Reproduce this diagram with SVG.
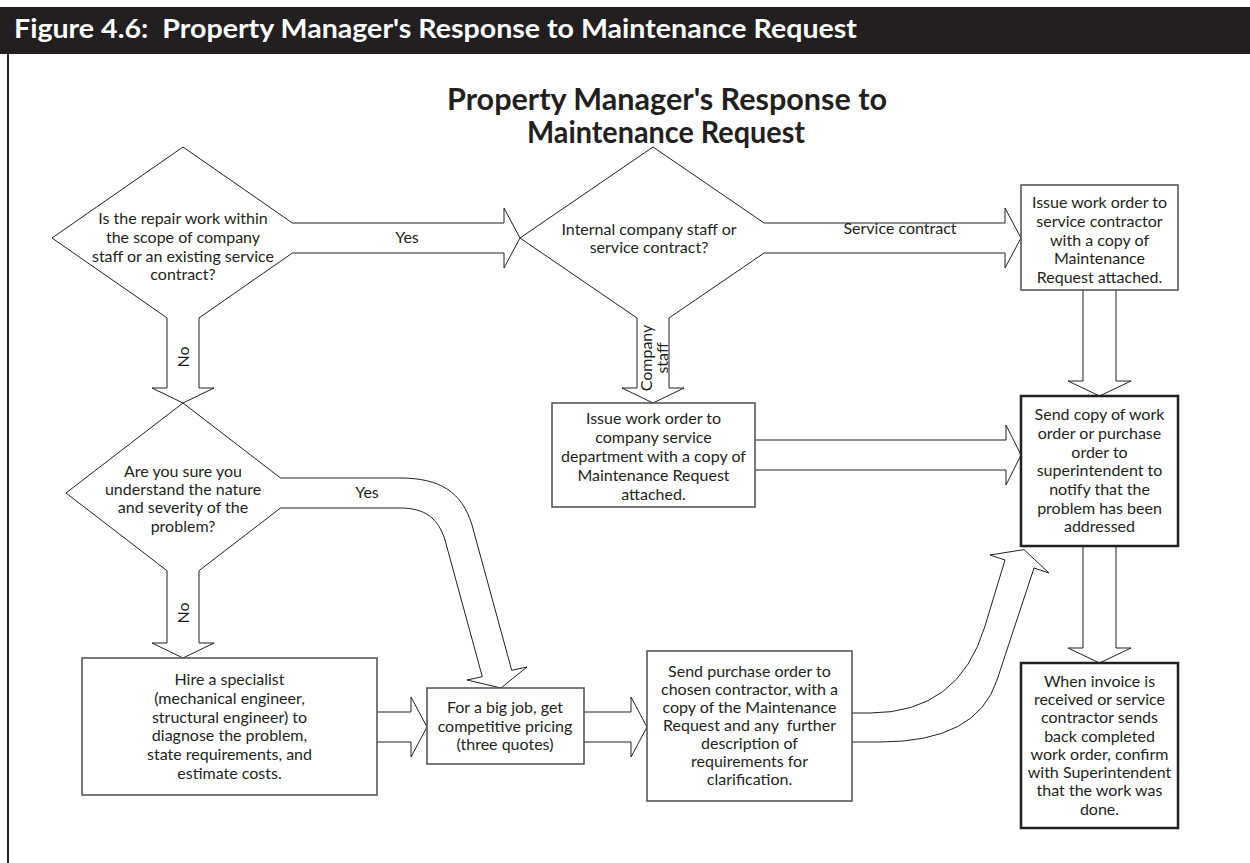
<svg xmlns="http://www.w3.org/2000/svg" width="1250" height="863" viewBox="0 0 1250 863">
<style>
.ln{fill:#fff;stroke:#231f20;stroke-width:1;stroke-linejoin:miter}
.dl{fill:none;stroke:#231f20;stroke-width:1}
.box{fill:#fff;stroke:#4d4d4d;stroke-width:1.5}
.boxb{fill:#fff;stroke:#231f20;stroke-width:2.5}
.t{font-family:Lato,"Open Sans","Liberation Sans",sans-serif;font-size:16px;fill:#231f20;text-anchor:middle}
.hd{font-family:Lato,"Open Sans","Liberation Sans",sans-serif;font-weight:bold;fill:#231f20;text-anchor:middle;font-size:30px}
</style>
<rect x="0" y="0" width="1250" height="863" fill="#fff"/>
<g id="titlebar">
<rect x="0" y="7" width="1250" height="47" fill="#231f20"/>
<text x="14" y="38" xml:space="preserve" textLength="843" lengthAdjust="spacingAndGlyphs" font-family="Lato,'Open Sans','Liberation Sans',sans-serif" font-weight="bold" font-size="27" fill="#fff">Figure 4.6:  Property Manager's Response to Maintenance Request</text>
</g>
<line x1="8" y1="54" x2="8" y2="863" stroke="#231f20" stroke-width="2"/>
<g id="heading">
<text class="hd" x="667" y="110" textLength="440" lengthAdjust="spacingAndGlyphs">Property Manager's Response to</text>
<text class="hd" x="666" y="143" textLength="278" lengthAdjust="spacingAndGlyphs">Maintenance Request</text>
</g>
<g id="connectors">
<path class="ln" d="M292.4,223 H504 V208 L520,238 L504,268 V253 H292.4"/>
<path class="ln" d="M167,317.9 V388 H152 L183,403 L214,388 H199 V317.9"/>
<path class="ln" d="M764.1,223 H1005 V208 L1021,238 L1005,268 V253 H764.1"/>
<path class="ln" d="M637,318 V388 H622 L653,403 L684,388 H669 V318"/>
<path class="ln" d="M1083,290 V381 H1068 L1099.5,396 L1131,381 H1116 V290"/>
<path class="ln" d="M755,440 H1006 V425 L1021,455 L1006,485 V470 H755"/>
<path class="ln" d="M1083,546 V648 H1068 L1099.5,663 L1131,648 H1116 V546"/>
<path class="ln" d="M167,570.7 V643 H152 L183,658 L214,643 H199 V570.7"/>
<path class="ln" d="M377,712 H411 V697 L427,727 L411,757 V742 H377"/>
<path class="ln" d="M584,712 H631 V697 L647,727 L631,757 V742 H584"/>
<path class="ln" d="M280.5,478 H400 C440,478 462,492 472,525 L511.7,670.3 L527,667 L501,688 L467,680 L482.3,676.7 L445,540 C438,518 425,508 400,508 H280.5"/>
<path class="ln" d="M852,713 H870 Q959,713 985,626 L1005,560 L990,555 L1024,549.6 L1049,573 L1034,568 L997,680 Q977,742 880,742 H852"/>
<text class="t" x="407" y="243">Yes</text>
<text class="t" x="900" y="234">Service contract</text>
<text class="t" x="367" y="498">Yes</text>
<text class="t" transform="translate(189,357) rotate(-90)">No</text>
<text class="t" transform="translate(189,613) rotate(-90)">No</text>
<text class="t" transform="translate(652,358) rotate(-90)">Company</text>
<text class="t" transform="translate(668,358) rotate(-90)">staff</text>
</g>
<g id="d1">
<path class="dl" d="M292.4,223 L183,147 L52,238 L167,317.9 M292.4,253 L199,317.9"/>
<text class="t" x="183" y="224">Is the repair work within</text>
<text class="t" x="183" y="243">the scope of company</text>
<text class="t" x="183" y="262">staff or an existing service</text>
<text class="t" x="183" y="280">contract?</text>
</g>
<g id="d2">
<path class="dl" d="M764.1,223 L653,147 L520,238 L637,318 M764.1,253 L669,318"/>
<text class="t" x="649" y="235">Internal company staff or</text>
<text class="t" x="649" y="253">service contract?</text>
</g>
<g id="d3">
<path class="dl" d="M280.5,478 L183,403 L66,493 L167,570.7 M280.5,508 L199,570.7"/>
<text class="t" x="183" y="477">Are you sure you</text>
<text class="t" x="183" y="495">understand the nature</text>
<text class="t" x="183" y="513">and severity of the</text>
<text class="t" x="183" y="532">problem?</text>
</g>
<g id="b-service">
<rect class="box" x="1021" y="185" width="157" height="105"/>
<text class="t" x="1099.5" y="208">Issue work order to</text>
<text class="t" x="1099.5" y="227">service contractor</text>
<text class="t" x="1099.5" y="246">with a copy of</text>
<text class="t" x="1099.5" y="264">Maintenance</text>
<text class="t" x="1099.5" y="283">Request attached.</text>
</g>
<g id="b-company">
<rect class="box" x="552" y="403" width="203" height="104"/>
<text class="t" x="653.5" y="424">Issue work order to</text>
<text class="t" x="653.5" y="443">company service</text>
<text class="t" x="653.5" y="462">department with a copy of</text>
<text class="t" x="653.5" y="481">Maintenance Request</text>
<text class="t" x="653.5" y="500">attached.</text>
</g>
<g id="b-sendcopy">
<rect class="boxb" x="1021" y="396" width="157" height="150"/>
<text class="t" x="1099.5" y="420">Send copy of work</text>
<text class="t" x="1099.5" y="439">order or purchase</text>
<text class="t" x="1099.5" y="458">order to</text>
<text class="t" x="1099.5" y="476">superintendent to</text>
<text class="t" x="1099.5" y="495">notify that the</text>
<text class="t" x="1099.5" y="514">problem has been</text>
<text class="t" x="1099.5" y="532">addressed</text>
</g>
<g id="b-confirm">
<rect class="boxb" x="1021" y="663" width="157" height="165"/>
<text class="t" x="1099.5" y="687">When invoice is</text>
<text class="t" x="1099.5" y="705">received or service</text>
<text class="t" x="1099.5" y="723">contractor sends</text>
<text class="t" x="1099.5" y="742">back completed</text>
<text class="t" x="1099.5" y="760">work order, confirm</text>
<text class="t" x="1099.5" y="778">with Superintendent</text>
<text class="t" x="1099.5" y="796">that the work was</text>
<text class="t" x="1099.5" y="815">done.</text>
</g>
<g id="b-hire">
<rect class="box" x="82" y="658" width="295" height="137"/>
<text class="t" x="229.5" y="685">Hire a specialist</text>
<text class="t" x="229.5" y="704">(mechanical engineer,</text>
<text class="t" x="229.5" y="723">structural engineer) to</text>
<text class="t" x="229.5" y="741">diagnose the problem,</text>
<text class="t" x="229.5" y="760">state requirements, and</text>
<text class="t" x="229.5" y="779">estimate costs.</text>
</g>
<g id="b-bigjob">
<rect class="box" x="427" y="688" width="157" height="76"/>
<text class="t" x="505" y="713">For a big job, get</text>
<text class="t" x="505" y="732">competitive pricing</text>
<text class="t" x="505" y="750">(three quotes)</text>
</g>
<g id="b-purchase">
<rect class="box" x="647" y="651" width="205" height="150"/>
<text class="t" x="749.5" y="677">Send purchase order to</text>
<text class="t" x="749.5" y="695">chosen contractor, with a</text>
<text class="t" x="749.5" y="713">copy of the Maintenance</text>
<text class="t" x="749.5" y="731" xml:space="preserve">Request and any  further</text>
<text class="t" x="749.5" y="749">description of</text>
<text class="t" x="749.5" y="767">requirements for</text>
<text class="t" x="749.5" y="785">clarification.</text>
</g>
</svg>
